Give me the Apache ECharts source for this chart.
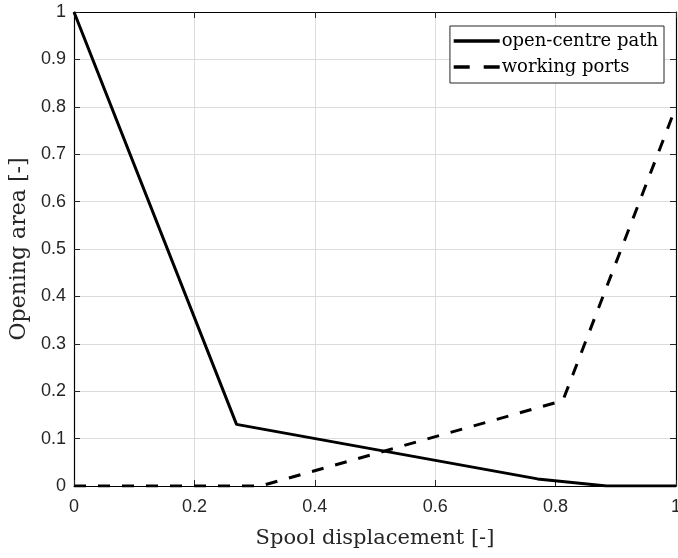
<!DOCTYPE html>
<html><head><meta charset="utf-8">
<script src="https://cdn.jsdelivr.net/npm/echarts@6/dist/echarts.min.js"></script>
<style>html,body{margin:0;padding:0;background:#fff}#c{width:678px;height:558px}</style>
</head><body><div id="c"></div>
<script>
const openCentreX = [0, 0.27, 0.77, 0.885, 1];
const openCentreY = [1, 0.13, 0.015, 0, 0];
const workingX = [0, 0.31, 0.812, 1];
const workingY = [0, 0, 0.18, 0.8];
const xTicks = [0, 0.2, 0.4, 0.6, 0.8, 1];
const yTicks = [0, 0.1, 0.2, 0.3, 0.4, 0.5, 0.6, 0.7, 0.8, 0.9, 1];

const chart = echarts.init(document.getElementById('c'));
const tickFont = {color:'#262626', fontFamily:'Liberation Sans, Arial, sans-serif', fontSize:18};
const fmt = v => String(+v.toFixed(2));
const zip = (xs, ys) => xs.map((x,i)=>[x, ys[i]]);
const serif = 'DejaVu Serif, Liberation Serif, serif';
chart.setOption({
  animation:false,
  grid:{left:74, right:2, top:12, bottom:72, outerBoundsMode:'none', containLabel:false},
  xAxis:[{
    type:'value', min:0, max:1, interval:0.2,
    name:'Spool displacement [-]', nameLocation:'middle', nameGap:42,
    nameTextStyle:{fontFamily:serif, fontSize:21, color:'#262626'},
    axisLine:{show:true, onZero:false, lineStyle:{color:'#000', width:1.2}},
    axisTick:{show:true, inside:true, length:6, lineStyle:{color:'#262626'}},
    axisLabel:Object.assign({margin:12, formatter:fmt}, tickFont),
    splitLine:{show:true, lineStyle:{color:'#dcdcdc', width:1}}
  },{
    type:'value', min:0, max:1, interval:0.2, position:'top',
    axisLine:{show:true, onZero:false, lineStyle:{color:'#000', width:1.2}},
    axisTick:{show:true, inside:true, length:6, lineStyle:{color:'#262626'}},
    axisLabel:{show:false}, splitLine:{show:false}
  }],
  yAxis:[{
    type:'value', min:0, max:1, interval:0.1,
    name:'Opening area [-]', nameLocation:'middle', nameGap:43,
    nameTextStyle:{fontFamily:serif, fontSize:22, color:'#262626'},
    axisLine:{show:true, onZero:false, lineStyle:{color:'#000', width:1.2}},
    axisTick:{show:true, inside:true, length:6, lineStyle:{color:'#262626'}},
    axisLabel:Object.assign({margin:8, formatter:fmt}, tickFont),
    splitLine:{show:true, lineStyle:{color:'#dcdcdc', width:1}}
  },{
    type:'value', min:0, max:1, interval:0.1, position:'right',
    axisLine:{show:true, onZero:false, lineStyle:{color:'#000', width:1.2}},
    axisTick:{show:true, inside:true, length:6, lineStyle:{color:'#262626'}},
    axisLabel:{show:false}, splitLine:{show:false}
  }],
  legend:{
    right:14, top:26, orient:'vertical', itemWidth:46, itemHeight:16, itemGap:8,
    padding:[6,6,7,2], borderColor:'#262626', borderWidth:1, backgroundColor:'#fff',
    itemStyle:{opacity:0},
    lineStyle:{width:3.5},
    textStyle:{fontFamily:serif, fontSize:18, color:'#000', padding:[0,0,0,-3]},
    data:[
      {name:'open-centre path'},
      {name:'working ports', lineStyle:{width:3.5, type:[16,14]}}
    ]
  },
  series:[
    {name:'open-centre path', type:'line', data:zip(openCentreX, openCentreY), symbol:'none',
     lineStyle:{color:'#000', width:3}, itemStyle:{color:'#000'}},
    {name:'working ports', type:'line', data:zip(workingX, workingY), symbol:'none',
     lineStyle:{color:'#000', width:3, type:[12,12]}, itemStyle:{color:'#000'}}
  ]
});
</script></body></html>
